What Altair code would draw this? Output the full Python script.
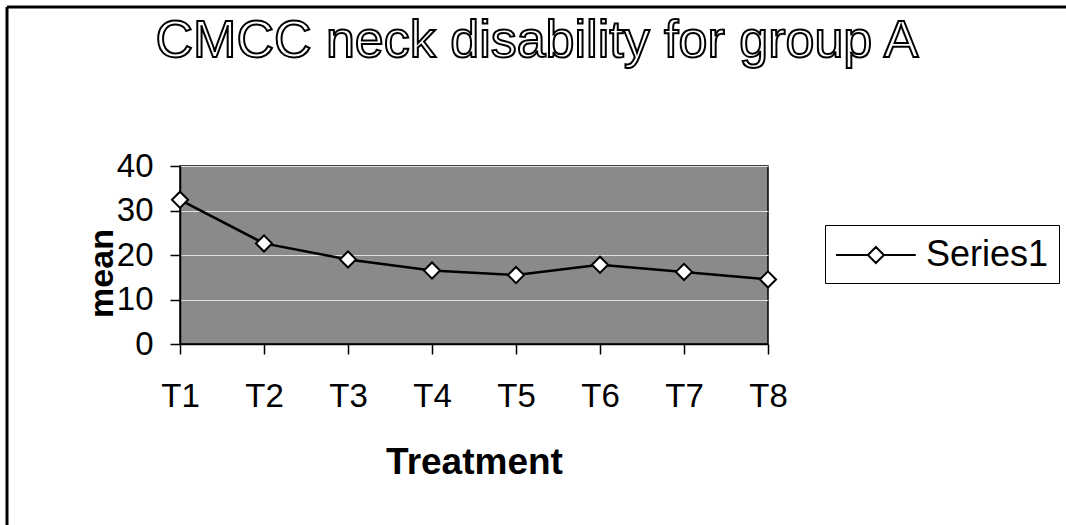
import altair as alt
import pandas as pd

# ---- data ----
treatments = ["T1", "T2", "T3", "T4", "T5", "T6", "T7", "T8"]
means = [32.4, 22.6, 19.0, 16.5, 15.5, 17.8, 16.2, 14.5]
series_name = ["Series1"] * len(treatments)
y_ticks = [0, 10, 20, 30, 40]
title_text = ["CMCC neck disability for group A"]

df = pd.DataFrame({"Treatment": treatments, "mean": means, "series": series_name})
title_df = pd.DataFrame({"t": title_text})
frame_df = pd.DataFrame({"k": [0]})

FONT = "Liberation Sans"

x_enc = alt.X(
    "Treatment:N",
    sort=treatments,
    scale=alt.Scale(type="point", padding=0),
    axis=alt.Axis(
        title="Treatment",
        labelAngle=0,
        labelFontSize=33,
        labelFont=FONT,
        labelColor="black",
        labelPadding=26,
        tickSize=10,
        tickColor="black",
        tickWidth=1.5,
        domainColor="black",
        domainWidth=1.5,
        grid=False,
        titleFontSize=37,
        titleFont=FONT,
        titleFontWeight="bold",
        titleColor="black",
        titleBaseline="alphabetic",
        titleY=129,
    ),
)
y_enc = alt.Y(
    "mean:Q",
    scale=alt.Scale(domain=[0, 40], nice=False),
    axis=alt.Axis(
        title="mean",
        values=y_ticks,
        labelFontSize=33,
        labelFont=FONT,
        labelColor="black",
        labelPadding=17,
        tickSize=10,
        tickColor="black",
        tickWidth=1.5,
        domainColor="black",
        domainWidth=1.5,
        grid=True,
        gridColor="#e0e0e0",
        gridWidth=1.2,
        titleFontSize=34,
        titleFont=FONT,
        titleFontWeight="bold",
        titleColor="black",
        titleAngle=270,
        titleAlign="center",
        titleBaseline="alphabetic",
        titleX=-68,
        titleY=107,
    ),
)

legend_path = "M-1,0L0.68,0M1.52,0L3.2,0M0.68,0L1.1,-0.42L1.52,0L1.1,0.42Z"

line = alt.Chart(df).mark_line(strokeWidth=2.5).encode(
    x=x_enc,
    y=y_enc,
    color=alt.Color(
        "series:N",
        scale=alt.Scale(range=["black"]),
        legend=alt.Legend(
            title=None,
            orient="none",
            legendX=645,
            legendY=59,
            padding=10,
            strokeColor="black",
            fillColor="white",
            labelFontSize=36,
            labelFont=FONT,
            labelColor="black",
            labelOffset=51,
            symbolType=legend_path,
            symbolSize=1444,
            symbolStrokeWidth=2,
            symbolStrokeColor="black",
            symbolFillColor="white",
        ),
    ),
)

points = alt.Chart(df).mark_point(
    shape="diamond", filled=False, fill="white", stroke="black",
    strokeWidth=2, size=260, opacity=1, fillOpacity=1,
).encode(x=alt.X("Treatment:N", sort=treatments), y="mean:Q")

title = alt.Chart(title_df).mark_text(
    font=FONT, fontSize=52, fill="white", stroke="black", strokeWidth=2,
    align="center", baseline="alphabetic",
).encode(text="t:N", x=alt.value(357), y=alt.value(-109))

frame_left = alt.Chart(frame_df).mark_rule(color="black", strokeWidth=3).encode(
    x=alt.value(-173), y=alt.value(-159), y2=alt.value(359)
)
frame_top = alt.Chart(frame_df).mark_rule(color="black", strokeWidth=3).encode(
    x=alt.value(-173), x2=alt.value(886), y=alt.value(-159)
)

chart = alt.layer(line, points, title, frame_left, frame_top).properties(
    width=588,
    height=178,
    autosize=alt.AutoSizeParams(type="none"),
    padding={"left": 180, "top": 166, "right": 298, "bottom": 181},
    background="white",
).configure_view(
    fill="#8a8a8a", stroke="black", strokeWidth=1.5
)

chart.save("out.html", embed_options={"renderer": "svg", "actions": False})
